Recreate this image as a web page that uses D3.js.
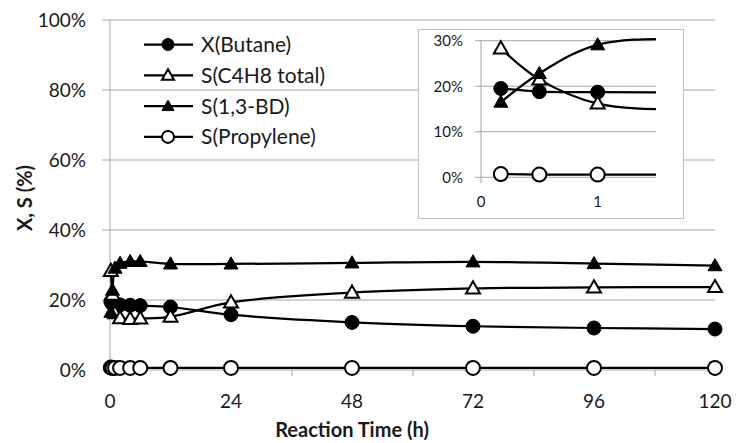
<!DOCTYPE html>
<html>
<head>
<meta charset="utf-8">
<script src="https://cdn.jsdelivr.net/npm/d3@7"></script>
<style>
  html, body { margin: 0; padding: 0; background: #fff; }
  svg { display: block; font-family: Lato, "Open Sans", sans-serif; }
</style>
</head>
<body>
<svg id="chart" width="736" height="443"></svg>
<script>
// Reaction time (h) and measured conversion / selectivities (%)
const times      = [0.17, 0.5, 1, 2, 4, 6, 12, 24, 48, 72, 96, 120];
const xButane    = [19.5, 18.8, 18.7, 18.6, 18.5, 18.4, 18.0, 15.8, 13.6, 12.5, 12.0, 11.7];
const sC4H8      = [28.3, 21.5, 16.2, 14.8, 14.6, 14.7, 15.2, 19.3, 22.1, 23.3, 23.6, 23.7];
const sBD        = [16.5, 22.8, 29.1, 30.5, 31.0, 31.0, 30.3, 30.3, 30.6, 30.9, 30.4, 29.8];
const sPropylene = [0.7, 0.6, 0.6, 0.6, 0.6, 0.6, 0.6, 0.6, 0.6, 0.6, 0.6, 0.6];

const seriesNames = ["X(Butane)", "S(C4H8 total)", "S(1,3-BD)", "S(Propylene)"];
const seriesMarkers = ["circleFilled", "triangleOpen", "triangleFilled", "circleOpen"];
const xTicksMain = [0, 24, 48, 72, 96, 120];
const yTicksMain = [0, 0.2, 0.4, 0.6, 0.8, 1.0];
const xTicksInset = [0, 1];
const yTicksInset = [0, 0.1, 0.2, 0.3];

const series = [xButane, sC4H8, sBD, sPropylene].map((vals, i) => ({
  name: seriesNames[i],
  marker: seriesMarkers[i],
  points: vals.map((v, j) => ({ t: times[j], v: v / 100 }))
}));

const svg = d3.select("#chart");
const GRID = "#a6a6a6";
const TEXT = "#1a1a1a";

function drawMarker(g, type, size) {
  const filled = type.endsWith("Filled");
  const shape = type.startsWith("circle") ? d3.symbolCircle : d3.symbolTriangle;
  const area = type.startsWith("circle") ? Math.PI * size * size / 4 : Math.sqrt(3) / 4 * size * size;
  g.append("path")
    .attr("d", d3.symbol(shape, area)())
    .attr("transform", type.startsWith("triangle") ? "translate(0,1)" : null)
    .attr("fill", filled ? "#000" : "#fff")
    .attr("stroke", "#000")
    .attr("stroke-width", filled ? 1 : 2);
}

function plotSeries(layer, x, y, markerSize, clipId) {
  const line = d3.line()
    .x(d => x(d.t)).y(d => y(d.v))
    .curve(d3.curveCatmullRom.alpha(0.5));
  const g = layer.append("g").attr("clip-path", clipId ? `url(#${clipId})` : null);
  series.forEach(s => {
    g.append("path")
      .attr("d", line(s.points))
      .attr("fill", "none")
      .attr("stroke", "#000")
      .attr("stroke-width", 2.25);
  });
  series.forEach(s => {
    s.points.forEach(p => {
      if (p.t > x.domain()[1]) return;
      const m = g.append("g").attr("transform", `translate(${x(p.t)},${y(p.v)})`);
      drawMarker(m, s.marker, markerSize);
    });
  });
}

// ---------- main chart ----------
const x = d3.scaleLinear().domain([0, 120]).range([110, 715]);
const y = d3.scaleLinear().domain([0, 1]).range([370, 20]);

// horizontal gridlines
svg.append("g").selectAll("line").data(yTicksMain).join("line")
  .attr("x1", 102).attr("x2", 715)
  .attr("y1", d => y(d)).attr("y2", d => y(d))
  .attr("stroke", GRID).attr("stroke-width", 1);

// y axis line
svg.append("line").attr("x1", 110).attr("x2", 110).attr("y1", 20).attr("y2", 376)
  .attr("stroke", GRID).attr("stroke-width", 1);

// x axis ticks every 12 h
const xAxis = d3.axisBottom(x).tickValues(d3.range(0, 121, 12)).tickSize(6).tickFormat("");
const gx = svg.append("g").attr("transform", "translate(0,370)").call(xAxis);
gx.select(".domain").remove();
gx.selectAll(".tick line").attr("stroke", GRID);

svg.append("g").selectAll("text").data(xTicksMain).join("text")
  .attr("x", d => x(d)).attr("y", 408)
  .attr("text-anchor", "middle").attr("font-size", 19).attr("fill", TEXT)
  .text(d => d);

svg.append("g").selectAll("text").data(yTicksMain).join("text")
  .attr("x", 86).attr("y", d => y(d) + 6.5)
  .attr("text-anchor", "end").attr("font-size", 19).attr("fill", TEXT)
  .text(d3.format(".0%"));

// axis titles
svg.append("text").attr("x", 352).attr("y", 437)
  .attr("text-anchor", "middle").attr("font-size", 20).attr("font-weight", "bold").attr("fill", TEXT)
  .text("Reaction Time (h)");
svg.append("text").attr("transform", "translate(32,198) rotate(-90)")
  .attr("text-anchor", "middle").attr("font-size", 20).attr("font-weight", "bold").attr("fill", TEXT)
  .text("X, S (%)");

plotSeries(svg, x, y, 14, null);

// ---------- legend ----------
const legend = svg.append("g");
series.forEach((s, i) => {
  const ly = 44.5 + i * 30.8;
  const g = legend.append("g").attr("transform", `translate(0,${ly})`);
  g.append("line").attr("x1", 144).attr("x2", 193).attr("y1", 0).attr("y2", 0)
    .attr("stroke", "#000").attr("stroke-width", 2.25);
  const m = g.append("g").attr("transform", "translate(168,0)");
  drawMarker(m, s.marker, 12);
  g.append("text").attr("x", 201).attr("y", 7.5)
    .attr("font-size", 21).attr("fill", TEXT).text(s.name);
});

// ---------- inset: first 1.5 h ----------
svg.append("rect").attr("x", 418.5).attr("y", 29.5).attr("width", 265).attr("height", 189)
  .attr("fill", "#fff").attr("stroke", "#bfbfbf").attr("stroke-width", 1);

const xi = d3.scaleLinear().domain([0, 1.5]).range([481, 656]);
const yi = d3.scaleLinear().domain([0, 0.3]).range([177.3, 40.7]);

svg.append("defs").append("clipPath").attr("id", "insetClip")
  .append("rect").attr("x", 470).attr("y", 30).attr("width", xi(1.5) - 470).attr("height", 187);

svg.append("g").selectAll("line").data(yTicksInset).join("line")
  .attr("x1", 475).attr("x2", 656)
  .attr("y1", d => yi(d)).attr("y2", d => yi(d))
  .attr("stroke", GRID).attr("stroke-width", 1);
svg.append("line").attr("x1", 481).attr("x2", 481).attr("y1", 40.7).attr("y2", 183)
  .attr("stroke", GRID).attr("stroke-width", 1);

svg.append("g").selectAll("text").data(yTicksInset).join("text")
  .attr("x", 463).attr("y", d => yi(d) + 5.5)
  .attr("text-anchor", "end").attr("font-size", 15).attr("fill", TEXT)
  .text(d3.format(".0%"));
svg.append("g").selectAll("text").data(xTicksInset).join("text")
  .attr("x", d => xi(d)).attr("y", 207)
  .attr("text-anchor", "middle").attr("font-size", 15).attr("fill", TEXT)
  .text(d => d);

plotSeries(svg, xi, yi, 14, "insetClip");
</script>
</body>
</html>
